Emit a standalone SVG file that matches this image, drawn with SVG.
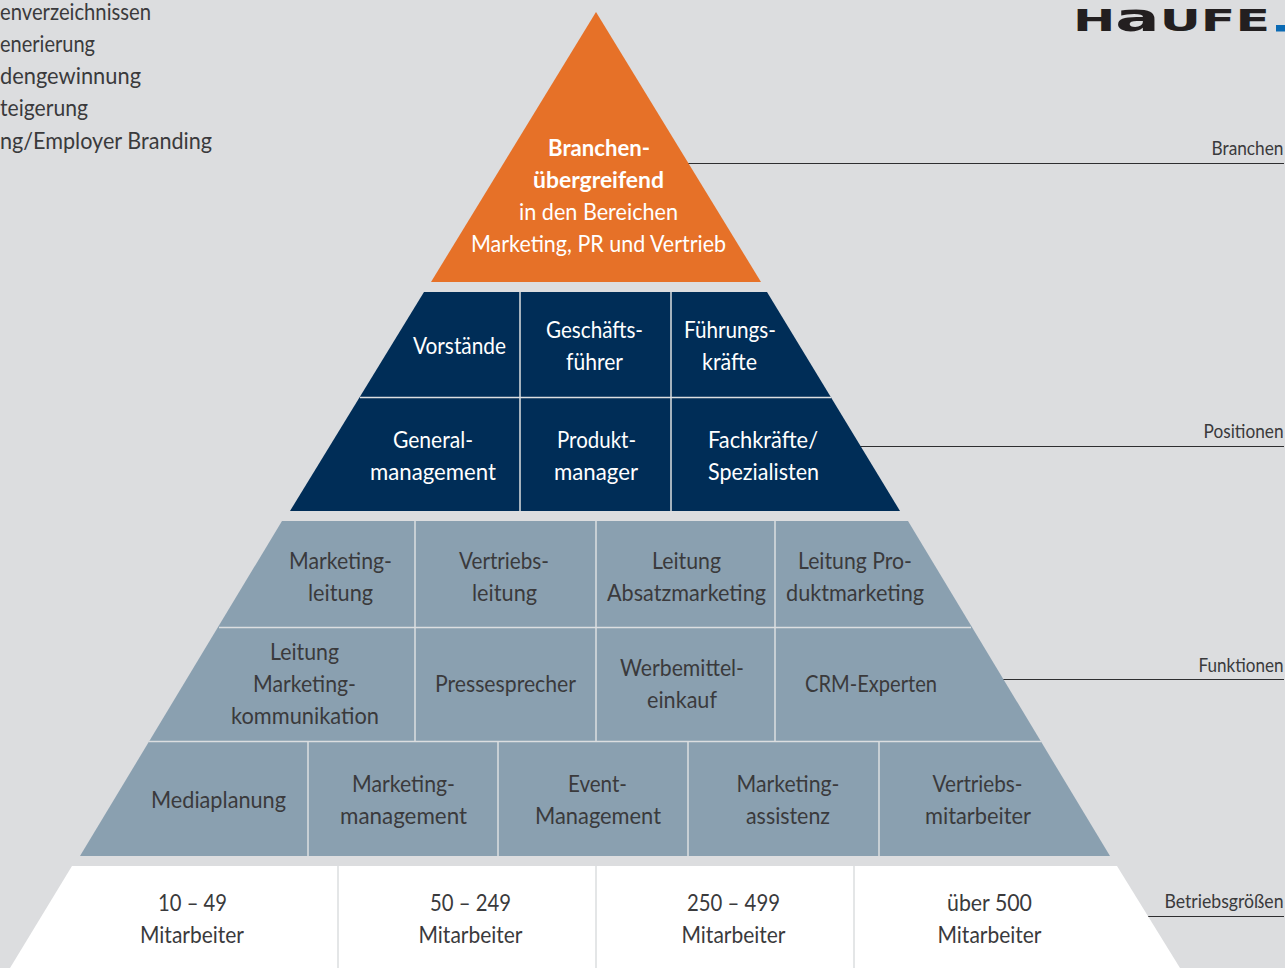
<svg xmlns="http://www.w3.org/2000/svg" width="1285" height="968" viewBox="0 0 1285 968">
<style>
text{font-family:"Lato","Open Sans",sans-serif;font-size:23.5px;text-anchor:middle}
.w{fill:#fff}.d{fill:#3a3a3c}.b{font-weight:700}
.l{fill:#3a3a3c;font-size:18.500px;text-anchor:end}
.s{fill:#3a3a3c;text-anchor:start}
.sep{stroke:#dcdee0;stroke-width:1.5;fill:none}
.c{stroke:#2e2e30;stroke-width:1;fill:none}
</style>
<rect width="1285" height="968" fill="#dcdddf"/>
<g id="intro">
<text class="s" x="0" y="20" textLength="151" lengthAdjust="spacingAndGlyphs">enverzeichnissen</text>
<text class="s" x="0" y="52" textLength="95" lengthAdjust="spacingAndGlyphs">enerierung</text>
<text class="s" x="0" y="84" textLength="141" lengthAdjust="spacingAndGlyphs">dengewinnung</text>
<text class="s" x="0" y="116" textLength="88" lengthAdjust="spacingAndGlyphs">teigerung</text>
<text class="s" x="0" y="149" textLength="212" lengthAdjust="spacingAndGlyphs">ng/Employer Branding</text>
</g>
<g id="logo"><text x="1073" y="31" style="font-family:'DejaVu Sans';font-weight:700;font-size:30px;text-anchor:start;fill:#231f20" textLength="197" lengthAdjust="spacingAndGlyphs">H<tspan style="font-size:39px">a</tspan>UFE</text><rect x="1276" y="25" width="9" height="6.500" fill="#0a6ab4"/></g>
<g id="connectors">
<path class="c" d="M686 163.500H1284M860 446.500H1284M1002 679.500H1284M1147 916.500H1284"/>
</g>
<g id="tier-branchen">
<path d="M596 12L761 282H431Z" fill="#e67128"/>
<text class="w b" x="599" y="156" textLength="102" lengthAdjust="spacingAndGlyphs">Branchen-</text>
<text class="w b" x="598.500" y="188" textLength="131" lengthAdjust="spacingAndGlyphs">übergreifend</text>
<text class="w" x="598.500" y="220" textLength="159" lengthAdjust="spacingAndGlyphs">in den Bereichen</text>
<text class="w" x="598.500" y="252" textLength="255" lengthAdjust="spacingAndGlyphs">Marketing, PR und Vertrieb</text>
</g>
<g id="tier-positionen">
<path d="M424 292H767L900 511H290Z" fill="#002d57"/>
<path class="sep" d="M360 397.500H831M520 292V511M671 292V511"/>
<text class="w" x="459.500" y="354" textLength="93" lengthAdjust="spacingAndGlyphs">Vorstände</text>
<text class="w" x="594.500" y="338" textLength="97" lengthAdjust="spacingAndGlyphs">Geschäfts-</text><text class="w" x="594.500" y="370" textLength="57" lengthAdjust="spacingAndGlyphs">führer</text>
<text class="w" x="730" y="338" textLength="92" lengthAdjust="spacingAndGlyphs">Führungs-</text><text class="w" x="729.500" y="370" textLength="55" lengthAdjust="spacingAndGlyphs">kräfte</text>
<text class="w" x="433" y="448" textLength="80" lengthAdjust="spacingAndGlyphs">General-</text><text class="w" x="433" y="480" textLength="126" lengthAdjust="spacingAndGlyphs">management</text>
<text class="w" x="596.500" y="448" textLength="79" lengthAdjust="spacingAndGlyphs">Produkt-</text><text class="w" x="596" y="480" textLength="84" lengthAdjust="spacingAndGlyphs">manager</text>
<text class="w" x="763" y="448" textLength="110" lengthAdjust="spacingAndGlyphs">Fachkräfte/</text><text class="w" x="763.500" y="480" textLength="111" lengthAdjust="spacingAndGlyphs">Spezialisten</text>
</g>
<g id="tier-funktionen">
<path d="M282 521H908L1110 856H80Z" fill="#8aa0b0"/>
<path class="sep" d="M219 627.500H971M149 741.500H1041M415 521V741M596 521V741M775 521V741M308 741V856M498 741V856M688 741V856M879 741V856"/>
<text class="d" x="340.500" y="569" textLength="103" lengthAdjust="spacingAndGlyphs">Marketing-</text><text class="d" x="340.500" y="601" textLength="65" lengthAdjust="spacingAndGlyphs">leitung</text>
<text class="d" x="504" y="569" textLength="90" lengthAdjust="spacingAndGlyphs">Vertriebs-</text><text class="d" x="504.500" y="601" textLength="65" lengthAdjust="spacingAndGlyphs">leitung</text>
<text class="d" x="686.500" y="569" textLength="69" lengthAdjust="spacingAndGlyphs">Leitung</text><text class="d" x="686.500" y="601" textLength="159" lengthAdjust="spacingAndGlyphs">Absatzmarketing</text>
<text class="d" x="855" y="569" textLength="114" lengthAdjust="spacingAndGlyphs">Leitung Pro-</text><text class="d" x="855" y="601" textLength="138" lengthAdjust="spacingAndGlyphs">duktmarketing</text>
<text class="d" x="304.500" y="660" textLength="69" lengthAdjust="spacingAndGlyphs">Leitung</text><text class="d" x="304.500" y="692" textLength="103" lengthAdjust="spacingAndGlyphs">Marketing-</text><text class="d" x="305" y="724" textLength="148" lengthAdjust="spacingAndGlyphs">kommunikation</text>
<text class="d" x="505.500" y="692" textLength="141" lengthAdjust="spacingAndGlyphs">Pressesprecher</text>
<text class="d" x="682" y="676" textLength="124" lengthAdjust="spacingAndGlyphs">Werbemittel-</text><text class="d" x="682" y="708" textLength="70" lengthAdjust="spacingAndGlyphs">einkauf</text>
<text class="d" x="871" y="692" textLength="132" lengthAdjust="spacingAndGlyphs">CRM-Experten</text>
<text class="d" x="218.500" y="808" textLength="135" lengthAdjust="spacingAndGlyphs">Mediaplanung</text>
<text class="d" x="403.500" y="792" textLength="103" lengthAdjust="spacingAndGlyphs">Marketing-</text><text class="d" x="403.500" y="824" textLength="127" lengthAdjust="spacingAndGlyphs">management</text>
<text class="d" x="597.500" y="792" textLength="59" lengthAdjust="spacingAndGlyphs">Event-</text><text class="d" x="598" y="824" textLength="126" lengthAdjust="spacingAndGlyphs">Management</text>
<text class="d" x="788" y="792" textLength="103" lengthAdjust="spacingAndGlyphs">Marketing-</text><text class="d" x="788" y="824" textLength="84" lengthAdjust="spacingAndGlyphs">assistenz</text>
<text class="d" x="977.500" y="792" textLength="90" lengthAdjust="spacingAndGlyphs">Vertriebs-</text><text class="d" x="978" y="824" textLength="106" lengthAdjust="spacingAndGlyphs">mitarbeiter</text>
</g>
<g id="tier-groessen">
<path d="M72 866H1117L1180 968H10Z" fill="#fff"/>
<path class="sep" d="M338 866V968M596 866V968M854 866V968"/>
<text class="d" x="192.500" y="911" textLength="69" lengthAdjust="spacingAndGlyphs">10 – 49</text><text class="d" x="192" y="943" textLength="104" lengthAdjust="spacingAndGlyphs">Mitarbeiter</text>
<text class="d" x="470.500" y="911" textLength="81" lengthAdjust="spacingAndGlyphs">50 – 249</text><text class="d" x="470.500" y="943" textLength="104" lengthAdjust="spacingAndGlyphs">Mitarbeiter</text>
<text class="d" x="733.500" y="911" textLength="93" lengthAdjust="spacingAndGlyphs">250 – 499</text><text class="d" x="733.500" y="943" textLength="104" lengthAdjust="spacingAndGlyphs">Mitarbeiter</text>
<text class="d" x="989.500" y="911" textLength="85" lengthAdjust="spacingAndGlyphs">über 500</text><text class="d" x="989.500" y="943" textLength="104" lengthAdjust="spacingAndGlyphs">Mitarbeiter</text>
</g>
<g id="labels">
<text class="l" x="1283.500" y="155" textLength="72" lengthAdjust="spacingAndGlyphs">Branchen</text>
<text class="l" x="1283.500" y="438" textLength="80" lengthAdjust="spacingAndGlyphs">Positionen</text>
<text class="l" x="1283.500" y="672" textLength="85" lengthAdjust="spacingAndGlyphs">Funktionen</text>
<text class="l" x="1283.500" y="908" textLength="119" lengthAdjust="spacingAndGlyphs">Betriebsgrößen</text>
</g>
</svg>
